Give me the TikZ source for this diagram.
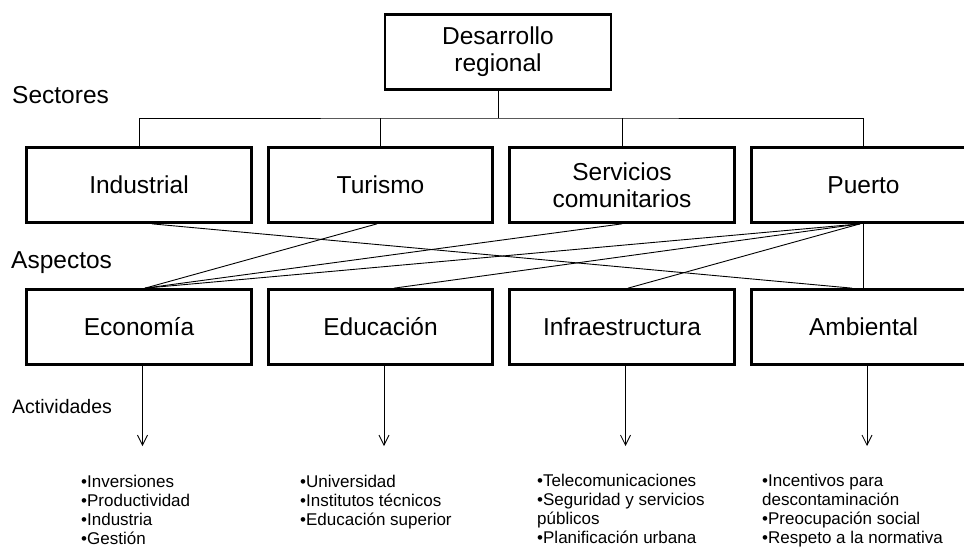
\documentclass[tikz,border=0pt]{standalone}
\usepackage{fontspec}
\setmainfont{Liberation Sans}
\usetikzlibrary{arrows.meta}
\begin{document}
\begin{tikzpicture}[x=1pt,y=-1pt,
  box/.style={draw, line width=2.7pt, minimum width=224.6pt, minimum height=75pt, inner sep=0pt, font=\fontsize{24.5}{27}\selectfont, align=center},
  onebox/.style={box, text height=17.8pt, text depth=0pt},
  conn/.style={line width=0.9pt},
  lbl/.style={anchor=base west, inner sep=0pt, font=\fontsize{24.5}{27}\selectfont},
  actlist/.style={anchor=north west, inner sep=0pt, align=left, font=\fontsize{17}{19.2}\selectfont},
  arr/.style={line width=0.8pt, -{Straight Barb[length=10pt,width=10pt]}}]
\useasboundingbox (0,0) rectangle (964,547);
\clip (0,0) rectangle (964,547);
\fill[white] (0,0) rectangle (964,547);

% top box
\node[box, minimum width=226pt, minimum height=74.8pt] (top) at (498,52) {Desarrollo\\regional};

% sectors
\node[onebox] (ind) at (139,185) {Industrial};
\node[onebox] (tur) at (380.5,185) {Turismo};
\node[box] (ser) at (622,185) {Servicios\\comunitarios};
\node[onebox] (pue) at (863.5,185) {Puerto};

% aspects
\node[onebox] (eco) at (139,327) {Economía};
\node[onebox] (edu) at (380.5,327) {Educación};
\node[onebox] (inf) at (622,327) {Infraestructura};
\node[onebox] (amb) at (863.5,327) {Ambiental};

% side labels
\node[lbl] (sect) at (12,103) {Sectores};
\node[lbl] (asp) at (11,268) {Aspectos};
\node[lbl, font=\fontsize{19.5}{22}\selectfont] (actv) at (12,413) {Actividades};

% tree
\coordinate (bus) at (498,118);
\draw[conn] (top.south) -- (bus);
\draw[conn] (ind.north) |- (bus) -| (pue.north);
\draw[conn] (tur.north) -- (tur.north |- bus);
\draw[conn] (ser.north) -- (ser.north |- bus);

% sector -> aspect links
\draw[conn] ([xshift=13pt]ind.south) -- ([xshift=-11.5pt]amb.north);
\draw[conn] ([xshift=-3.5pt]tur.south) -- ([xshift=6pt]eco.north);
\draw[conn] (ser.south) -- ([xshift=6pt]eco.north);
\draw[conn] ([xshift=-3.5pt]pue.south) -- ([xshift=6pt]eco.north);
\draw[conn] ([xshift=-3.5pt]pue.south) -- ([xshift=13.5pt]edu.north);
\draw[conn] ([xshift=-3.5pt]pue.south) -- ([xshift=6pt]inf.north);
\draw[line width=1.7pt] (pue.south) -- (amb.north);

% arrows to activities
\coordinate (e1) at (142.5,446);
\coordinate (e2) at (384,446);
\coordinate (e3) at (625.5,446);
\coordinate (e4) at (867,446);
\draw[arr] ([xshift=3.5pt]eco.south) -- (e1);
\draw[arr] ([xshift=3.5pt]edu.south) -- (e2);
\draw[arr] ([xshift=3.5pt]inf.south) -- (e3);
\draw[arr] ([xshift=3.5pt]amb.south) -- (e4);

% activity lists
\node[actlist] (l1) at (81,474.6) {•Inversiones\\•Productividad\\•Industria\\•Gestión};
\node[actlist] (l2) at (300,474.6) {•Universidad\\•Institutos técnicos\\•Educación superior};
\node[actlist] (l3) at (537,473.6) {•Telecomunicaciones\\•Seguridad y servicios\\públicos\\•Planificación urbana};
\node[actlist] (l4) at (762,473.6) {•Incentivos para\\descontaminación\\•Preocupación social\\•Respeto a la normativa};
\end{tikzpicture}
\end{document}
